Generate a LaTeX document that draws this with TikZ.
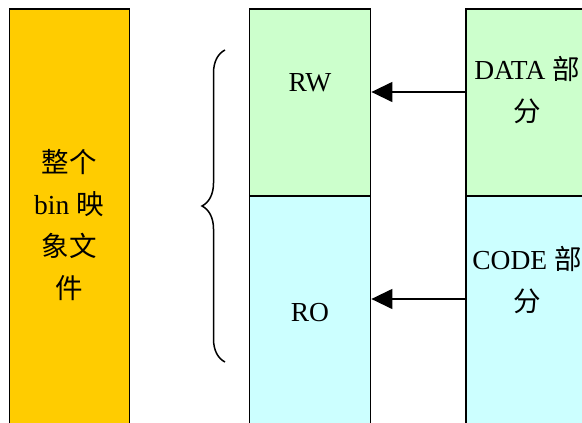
\documentclass[tikz,border=0pt]{standalone}
\usepackage{fontspec}
\setmainfont{Liberation Serif}
\newfontfamily\cjk{Noto Sans CJK SC}
\usetikzlibrary{arrows.meta,decorations.pathreplacing}
\definecolor{imgorange}{HTML}{FFCC00}
\definecolor{rwgreen}{HTML}{CCFFCC}
\definecolor{rocyan}{HTML}{CCFFFF}
\tikzset{
  block/.style={draw=black, line width=1.8pt, inner sep=0pt},
  lbl/.style={align=center, inner sep=0pt, font=\fontsize{27.5}{42}\selectfont},
  arr/.style={line width=1.4pt, -{Triangle[length=21pt,width=20pt]}},
}
\begin{document}
\begin{tikzpicture}[x=1pt,y=-1pt]
  \clip (0,0) rectangle (582,423);
  \fill[white] (0,0) rectangle (582,423);

  % whole image column
  \node[block, fill=imgorange, minimum width=120pt, minimum height=432pt] (img) at (69.5,225) {};
  \node[lbl] (imgtxt) at (69,225) {{\cjk 整个}\\bin {\cjk 映}\\{\cjk 象文}\\{\cjk 件}};

  % RW / RO sections of the image
  \node[block, fill=rwgreen, minimum width=121pt, minimum height=187pt] (mtop) at (310,102.5) {};
  \node[block, fill=rocyan, minimum width=121pt, minimum height=244pt] (mbot) at (310,318) {};
  \node[lbl] (rw) at (310,83) {RW};
  \node[lbl] (ro) at (310,313) {RO};

  % program parts
  \node[block, fill=rwgreen, minimum width=121pt, minimum height=187pt] (rtop) at (526.5,102.5) {};
  \node[block, fill=rocyan, minimum width=121pt, minimum height=244pt] (rbot) at (526.5,318) {};
  \node[lbl] (data) at (527,90.5) {DATA {\cjk 部}\\{\cjk 分}};
  \node[lbl] (code) at (527,280.5) {CODE {\cjk 部}\\{\cjk 分}};

  % mapping arrows
  \draw[arr] ([yshift=10.5pt]rtop.west) -- ([yshift=10.5pt]mtop.east);
  \draw[arr] ([yshift=19pt]rbot.west) -- ([yshift=19pt]mbot.east);

  % brace spanning RW and RO
  \coordinate (bb) at (225,362);
  \coordinate (bt) at (225,50);
  \draw[line width=1.5pt, decorate, decoration={brace, amplitude=23pt}] (bb) -- (bt);
\end{tikzpicture}
\end{document}
